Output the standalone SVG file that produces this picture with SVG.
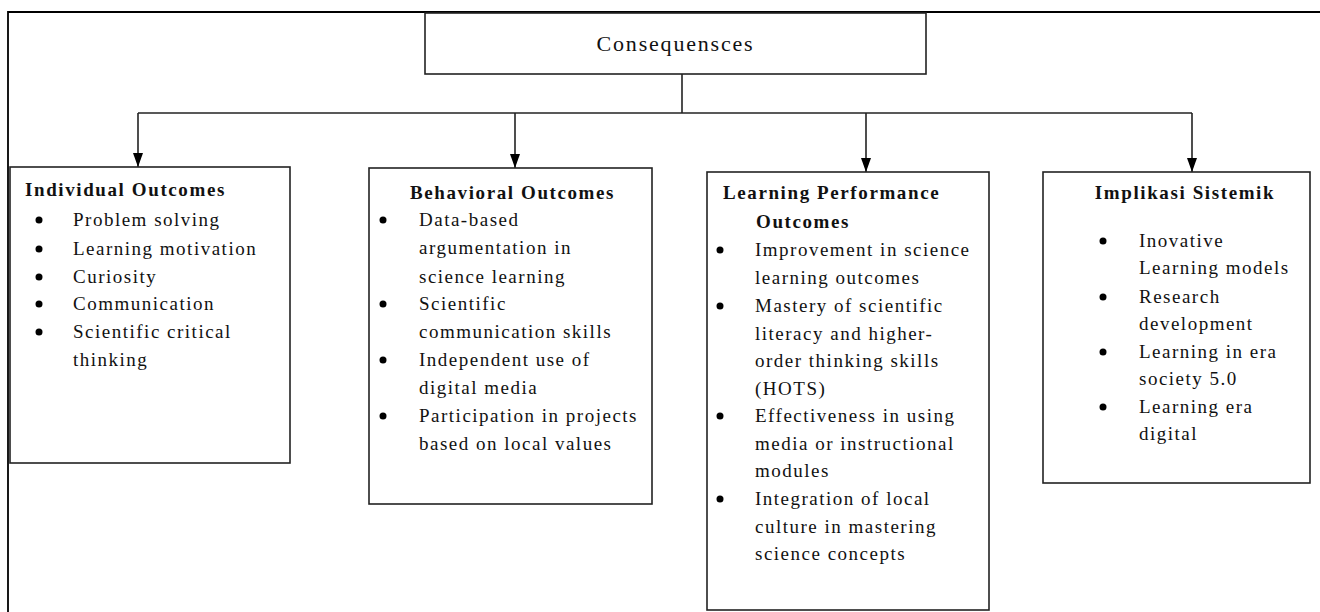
<svg xmlns="http://www.w3.org/2000/svg" width="1320" height="612" viewBox="0 0 1320 612">
<style>
.box{fill:#fff;stroke:#222;stroke-width:1.6}
.frame{fill:none;stroke:#000;stroke-width:1.8}
.ln{fill:none;stroke:#222;stroke-width:1.6}
text{font-family:"Liberation Serif","Times New Roman",serif;fill:#111}
.t{font-size:19px;font-weight:bold;letter-spacing:1.6px}
.i{font-size:19px;letter-spacing:1.5px}
.h{font-size:22px;letter-spacing:1.8px}
.b{fill:#000}
</style>
<defs>
<marker id="ah" markerWidth="14" markerHeight="10" refX="14" refY="5" orient="auto" markerUnits="userSpaceOnUse" viewBox="0 0 14 10">
<path d="M0,0 L14,5 L0,10 Z" fill="#000"/>
</marker>
</defs>
<path class="frame" d="M8,612 L8,12 L1320,12"/>
<g id="connectors">
<path class="ln" d="M682,74 L682,113"/>
<path class="ln" d="M138,113 L1192,113"/>
<path class="ln" d="M138,113 L138,167" marker-end="url(#ah)"/>
<path class="ln" d="M515,113 L515,168" marker-end="url(#ah)"/>
<path class="ln" d="M866,113 L866,172" marker-end="url(#ah)"/>
<path class="ln" d="M1192,113 L1192,172" marker-end="url(#ah)"/>
</g>
<g id="consequences">
<rect class="box" x="425" y="13" width="501" height="61"/>
<text class="h" x="675.5" y="51" text-anchor="middle">Consequensces</text>
</g>
<g id="individual">
<rect class="box" x="10" y="167" width="280" height="296"/>
<text class="t" x="25" y="196">Individual Outcomes</text>
<circle class="b" cx="39" cy="220" r="3.5"/><text class="i" x="73" y="226">Problem solving</text>
<circle class="b" cx="39" cy="249" r="3.5"/><text class="i" x="73" y="255">Learning motivation</text>
<circle class="b" cx="39" cy="277" r="3.5"/><text class="i" x="73" y="283">Curiosity</text>
<circle class="b" cx="39" cy="304" r="3.5"/><text class="i" x="73" y="310">Communication</text>
<circle class="b" cx="39" cy="332" r="3.5"/><text class="i" x="73" y="338">Scientific critical</text>
<text class="i" x="73" y="366">thinking</text>
</g>
<g id="behavioral">
<rect class="box" x="369" y="168" width="283" height="336"/>
<text class="t" x="410" y="199">Behavioral Outcomes</text>
<circle class="b" cx="383" cy="220" r="3.5"/><text class="i" x="419" y="226">Data-based</text>
<text class="i" x="419" y="254">argumentation in</text>
<text class="i" x="419" y="283">science learning</text>
<circle class="b" cx="383" cy="304" r="3.5"/><text class="i" x="419" y="310">Scientific</text>
<text class="i" x="419" y="338">communication skills</text>
<circle class="b" cx="383" cy="360" r="3.5"/><text class="i" x="419" y="366">Independent use of</text>
<text class="i" x="419" y="394">digital media</text>
<circle class="b" cx="383" cy="416" r="3.5"/><text class="i" x="419" y="422">Participation in projects</text>
<text class="i" x="419" y="450">based on local values</text>
</g>
<g id="learning">
<rect class="box" x="707" y="172" width="282" height="438"/>
<text class="t" x="723" y="199">Learning Performance</text>
<text class="t" x="756" y="228">Outcomes</text>
<circle class="b" cx="720" cy="250" r="3.5"/><text class="i" x="755" y="256">Improvement in science</text>
<text class="i" x="755" y="284">learning outcomes</text>
<circle class="b" cx="720" cy="306" r="3.5"/><text class="i" x="755" y="312">Mastery of scientific</text>
<text class="i" x="755" y="340">literacy and higher-</text>
<text class="i" x="755" y="367">order thinking skills</text>
<text class="i" x="755" y="395">(HOTS)</text>
<circle class="b" cx="720" cy="416" r="3.5"/><text class="i" x="755" y="422">Effectiveness in using</text>
<text class="i" x="755" y="450">media or instructional</text>
<text class="i" x="755" y="477">modules</text>
<circle class="b" cx="720" cy="499" r="3.5"/><text class="i" x="755" y="505">Integration of local</text>
<text class="i" x="755" y="533">culture in mastering</text>
<text class="i" x="755" y="560">science concepts</text>
</g>
<g id="implikasi">
<rect class="box" x="1043" y="172" width="267" height="311"/>
<text class="t" x="1185" y="199" text-anchor="middle">Implikasi Sistemik</text>
<circle class="b" cx="1103" cy="241" r="3.5"/><text class="i" x="1139" y="247">Inovative</text>
<text class="i" x="1139" y="274">Learning models</text>
<circle class="b" cx="1103" cy="297" r="3.5"/><text class="i" x="1139" y="303">Research</text>
<text class="i" x="1139" y="330">development</text>
<circle class="b" cx="1103" cy="352" r="3.5"/><text class="i" x="1139" y="358">Learning in era</text>
<text class="i" x="1139" y="385">society 5.0</text>
<circle class="b" cx="1103" cy="407" r="3.5"/><text class="i" x="1139" y="413">Learning era</text>
<text class="i" x="1139" y="440">digital</text>
</g>
</svg>
